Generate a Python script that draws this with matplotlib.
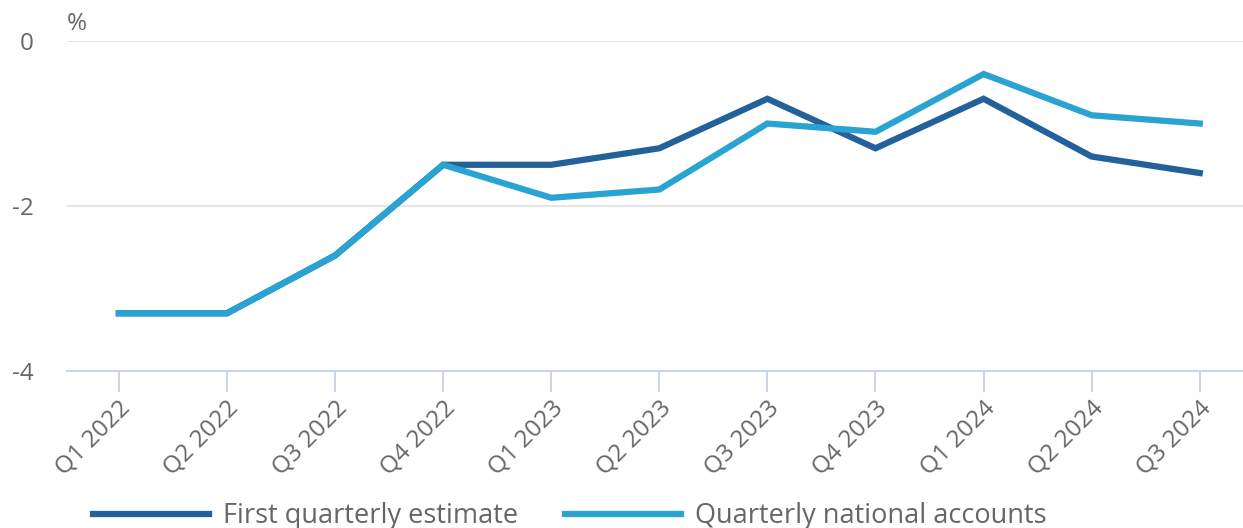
import matplotlib.pyplot as plt

plt.rcParams['font.family'] = ['Open Sans', 'DejaVu Sans']

# Data
quarters = ['Q1 2022', 'Q2 2022', 'Q3 2022', 'Q4 2022', 'Q1 2023', 'Q2 2023',
            'Q3 2023', 'Q4 2023', 'Q1 2024', 'Q2 2024', 'Q3 2024']
first_estimate = [-3.3, -3.3, -2.6, -1.5, -1.5, -1.3, -0.7, -1.3, -0.7, -1.4, -1.6]
national_accounts = [-3.3, -3.3, -2.6, -1.5, -1.9, -1.8, -1.0, -1.1, -0.4, -0.9, -1.0]
yticks = [0, -2, -4]

dark = '#22619a'
light = '#29a3d1'
txt = '#666666'

fig = plt.figure(figsize=(12.43, 5.28), dpi=100)
ax = fig.add_axes([0.0539, 0.2973, 0.9461, 0.625])

x = list(range(len(quarters)))
ax.plot(x, first_estimate, color=dark, lw=4.5, label='First quarterly estimate',
        solid_joinstyle='miter', zorder=3, clip_on=False)
ax.plot(x, national_accounts, color=light, lw=4.5, label='Quarterly national accounts',
        solid_joinstyle='miter', zorder=4, clip_on=False)

ax.set_xlim(-0.48, 10.4)
ax.set_ylim(-4, 0)
ax.set_yticks(yticks)
ax.set_yticklabels([str(v) for v in yticks])
ax.set_xticks(x)
ax.set_xticklabels(quarters, rotation=45, ha='right', rotation_mode='anchor')

for s in ['top', 'right', 'left']:
    ax.spines[s].set_visible(False)
ax.spines['bottom'].set_color('#ccd6eb')
ax.spines['bottom'].set_linewidth(1.5)
ax.spines['bottom'].set_zorder(2)

ax.grid(axis='y', color='#e6e6e6', lw=1.5)
ax.set_axisbelow(True)
ax.tick_params(axis='y', length=0, pad=24, labelsize=17.5, labelcolor=txt)
ax.tick_params(axis='x', length=15, width=1.5, color='#ccd6eb', pad=3,
               labelsize=17.5, labelcolor=txt)

fig.text(67 / 1243, 1 - 24 / 528, '%', fontsize=17.5, color=txt, va='center', ha='left')

leg = fig.legend(loc='center', bbox_to_anchor=(0.4586, 0.022), ncol=2, frameon=False,
                 fontsize=19.5, handlelength=4.28, handletextpad=0.52, columnspacing=1.74,
                 labelcolor=txt)
for h in leg.legend_handles:
    h.set_linewidth(4.5)

fig.savefig('out.png', dpi=100)
